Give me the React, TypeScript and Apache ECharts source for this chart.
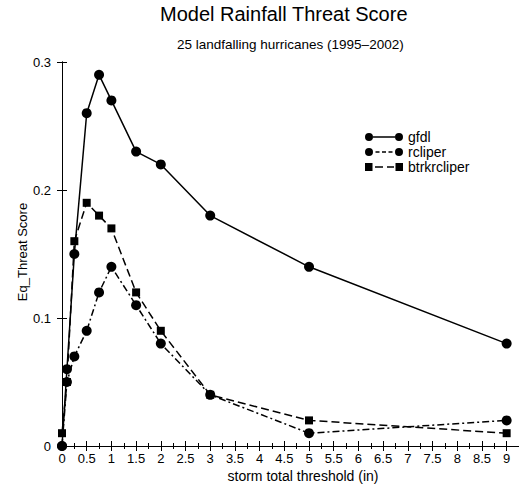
import React, { useEffect, useRef } from "react";
import * as echarts from "echarts";

const thresholds = [0, 0.1, 0.25, 0.5, 0.75, 1, 1.5, 2, 3, 5, 9];
const gfdl = [0, 0.06, 0.15, 0.26, 0.29, 0.27, 0.23, 0.22, 0.18, 0.14, 0.08];
const rcliper = [0, 0.05, 0.07, 0.09, 0.12, 0.14, 0.11, 0.08, 0.04, 0.01, 0.02];
const btrkrcliper = [0.01, 0.05, 0.16, 0.19, 0.18, 0.17, 0.12, 0.09, 0.04, 0.02, 0.01];
const seriesNames = ["gfdl", "rcliper", "btrkrcliper"];

const FONT = "'Liberation Sans', Arial, Helvetica, sans-serif";

const circ = (cx: number) =>
  `M${cx - 4},4 A4,4 0 1,1 ${cx + 4},4 A4,4 0 1,1 ${cx - 4},4 Z`;
const rect = (x0: number, x1: number, y0: number, y1: number) =>
  `M${x0},${y0} L${x1},${y0} L${x1},${y1} L${x0},${y1} Z`;

const iconGfdl = "path://" + circ(4) + " " + rect(8, 30, 3.25, 4.75) + " " + circ(34);
const iconRcliper =
  "path://" +
  circ(4) +
  " " +
  rect(10.5, 14.5, 3.25, 4.75) +
  " " +
  rect(17, 21, 3.25, 4.75) +
  " " +
  rect(23.5, 27.5, 3.25, 4.75) +
  " " +
  circ(34);
const iconBtrk =
  "path://" +
  rect(0, 7.5, 0, 8) +
  " " +
  rect(10, 18, 3.25, 4.75) +
  " " +
  rect(22, 29, 3.25, 4.75) +
  " " +
  rect(30.5, 38, 0, 8);

export default function App() {
  const ref = useRef<HTMLDivElement>(null);
  useEffect(() => {
    if (!ref.current) return;
    const chart = echarts.init(ref.current, undefined, { renderer: "svg" });
    const pairs = (vals: number[]) => thresholds.map((t, i) => [t, vals[i]]);
    const axisCommon = {
      axisLine: { lineStyle: { color: "#000", width: 1 } },
      splitLine: { show: false },
    };
    chart.setOption({
      animation: false,
      backgroundColor: "#fff",
      textStyle: { fontFamily: FONT },
      title: [
        {
          text: "Model Rainfall Threat Score",
          left: 160,
          top: 4,
          padding: 0,
          textStyle: { fontSize: 20, fontWeight: "normal", color: "#000", fontFamily: FONT },
        },
        {
          text: "25 landfalling hurricanes (1995–2002)",
          left: 177,
          top: 37,
          padding: 0,
          textStyle: { fontSize: 13.5, fontWeight: "normal", color: "#000", fontFamily: FONT },
        },
      ],
      legend: {
        orient: "vertical",
        left: 365,
        top: 130,
        padding: 0,
        itemWidth: 38,
        itemHeight: 8,
        itemGap: 1,
        itemStyle: { borderWidth: 0 },
        textStyle: { fontSize: 14, color: "#000", fontFamily: FONT },
        data: [
          { name: seriesNames[0], icon: iconGfdl },
          { name: seriesNames[1], icon: iconRcliper },
          { name: seriesNames[2], icon: iconBtrk },
        ],
      },
      grid: { left: 62, right: -1, top: 62, bottom: 38, containLabel: false },
      xAxis: [
        {
          type: "value",
          min: 0,
          max: 9.25,
          interval: 0.5,
          position: "bottom",
          ...axisCommon,
          axisTick: { inside: true, length: 5, lineStyle: { color: "#000" } },
          minorTick: { show: true, splitNumber: 2, length: 3, lineStyle: { color: "#000" } },
          axisLabel: {
            showMaxLabel: false,
            margin: 6,
            fontSize: 13,
            color: "#000",
            fontFamily: FONT,
          },
        },
        {
          type: "value",
          min: 0,
          max: 9.25,
          interval: 0.5,
          position: "top",
          ...axisCommon,
          axisTick: { inside: true, length: 5, lineStyle: { color: "#000" } },
          minorTick: { show: true, splitNumber: 2, length: 3, lineStyle: { color: "#000" } },
          axisLabel: { show: false },
        },
      ],
      yAxis: [
        {
          type: "value",
          min: 0,
          max: 0.3,
          interval: 0.1,
          position: "left",
          ...axisCommon,
          axisTick: { inside: true, length: 5, lineStyle: { color: "#000" } },
          axisLabel: {
            margin: 11,
            fontSize: 13,
            color: "#000",
            fontFamily: FONT,
            formatter: (v: number) => (v === 0 ? "0" : v.toFixed(1)),
          },
        },
        {
          type: "value",
          min: 0,
          max: 0.3,
          interval: 0.1,
          position: "right",
          ...axisCommon,
          axisTick: { inside: true, length: 5, lineStyle: { color: "#000" } },
          axisLabel: { show: false },
        },
      ],
      graphic: [
        {
          type: "text",
          x: 303,
          y: 476,
          style: {
            text: "storm total threshold (in)",
            fontSize: 14,
            fontFamily: FONT,
            fill: "#000",
            textAlign: "center",
            textVerticalAlign: "middle",
          },
        },
        {
          type: "text",
          x: 22,
          y: 252,
          rotation: Math.PI / 2,
          style: {
            text: "Eq_Threat Score",
            fontSize: 13,
            fontFamily: FONT,
            fill: "#000",
            textAlign: "center",
            textVerticalAlign: "middle",
          },
        },
      ],
      series: [
        {
          name: seriesNames[0],
          type: "line",
          color: "#000",
          data: pairs(gfdl),
          symbol: "circle",
          symbolSize: 10,
          lineStyle: { color: "#000", width: 1.5, type: "solid" },
          itemStyle: { color: "#000" },
        },
        {
          name: seriesNames[1],
          type: "line",
          color: "#000",
          data: pairs(rcliper),
          symbol: "circle",
          symbolSize: 10,
          lineStyle: { color: "#000", width: 1.5, type: [7, 3, 2, 3] },
          itemStyle: { color: "#000" },
        },
        {
          name: seriesNames[2],
          type: "line",
          color: "#000",
          data: pairs(btrkrcliper),
          symbol: "rect",
          symbolSize: 8,
          lineStyle: { color: "#000", width: 1.5, type: [8, 4] },
          itemStyle: { color: "#000" },
        },
      ],
    });
    return () => chart.dispose();
  }, []);
  return (
    <div
      ref={ref}
      style={{ position: "absolute", left: 0, top: 0, width: 519, height: 484 }}
    />
  );
}
